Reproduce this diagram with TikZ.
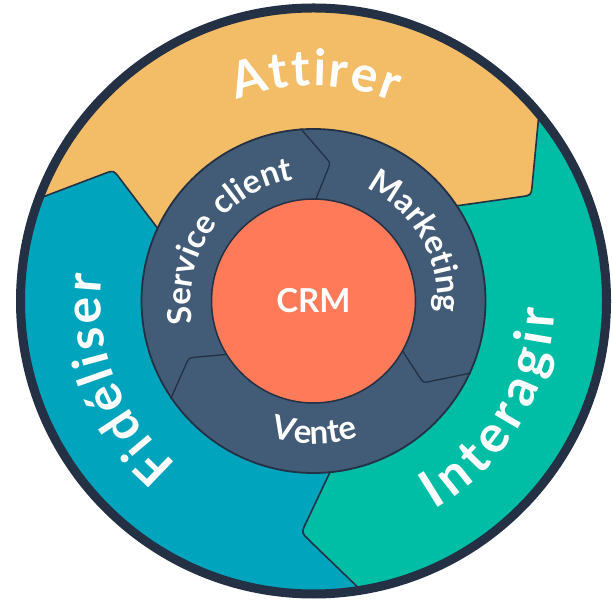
\documentclass[tikz,border=0pt]{standalone}
\usepackage{fontspec}
\setmainfont{Lato}
\usetikzlibrary{calc,decorations.text}
\definecolor{obs}{RGB}{36,48,68}
\definecolor{slate}{HTML}{425B76}
\definecolor{crmor}{HTML}{FF7A59}
\definecolor{attc}{HTML}{F2BD66}
\definecolor{intc}{HTML}{00BDA5}
\definecolor{fidc}{HTML}{00A4BD}
\newcommand\outfmt{\fontsize{50}{60}\selectfont\bfseries}
\newcommand\bigfmt{\fontsize{52}{62}\selectfont\bfseries}
\newcommand\infmt{\fontsize{33}{40}\selectfont\bfseries}
\begin{document}
\begin{tikzpicture}[x=1pt,y=1pt,
  bline/.style={draw=obs, line width=1.6pt},
  iline/.style={draw=obs, line width=1.3pt},
  fittext/.style={decorate, decoration={text along path, text align=fit to path, text color=white, text={#1}}},
  ctext/.style={decorate, decoration={text along path, text align=center, text color=white, text={#1}}}]
\useasboundingbox (0,0) rectangle (612,599);
\begin{scope}[shift={(313.5,298)}]
\coordinate (C) at (0,0);
% outer boundaries
\coordinate (b1x) at (38.9:292); \coordinate (b1o) at (38.9:289); \coordinate (b1c) at (25.9:242); \coordinate (b1i) at (33.6:172); \coordinate (b1y) at (33.6:165);
\coordinate (b2x) at (278.7:292); \coordinate (b2o) at (278.7:289); \coordinate (b2c) at (267:232); \coordinate (b2i) at (275.5:172); \coordinate (b2y) at (275.5:165);
\coordinate (b3x) at (158.8:292); \coordinate (b3o) at (158.8:289); \coordinate (b3c) at (146.8:239); \coordinate (b3i) at (155:172); \coordinate (b3y) at (155:165);
% inner boundaries
\coordinate (i1o) at (94.3:173); \coordinate (i1c) at (83:139); \coordinate (i1i) at (88.9:101);
\coordinate (i2o) at (-24.6:173); \coordinate (i2c) at (-36.7:137); \coordinate (i2i) at (-29:101);
\coordinate (i3o) at (214.4:173); \coordinate (i3c) at (204.5:137); \coordinate (i3i) at (211.9:101);
\end{scope}
\foreach \b in {b1,b2,b3} {
  \coordinate (\b co) at ($(\b c)!10pt!(\b o)$);
  \coordinate (\b ci) at ($(\b c)!10pt!(\b i)$);
}
\foreach \b in {i1,i2,i3} {
  \coordinate (\b co) at ($(\b c)!7pt!(\b o)$);
  \coordinate (\b ci) at ($(\b c)!7pt!(\b i)$);
}
% outer segments
\fill[attc] (b1x) arc[start angle=38.9, end angle=158.8, radius=292] -- (b3o) -- (b3co) .. controls (b3c) .. (b3ci) -- (b3i) -- (b3y) arc[start angle=155, end angle=33.6, radius=165] -- (b1i) -- (b1ci) .. controls (b1c) .. (b1co) -- (b1o) -- cycle;
\fill[intc] (b2x) arc[start angle=-81.3, end angle=38.9, radius=292] -- (b1o) -- (b1co) .. controls (b1c) .. (b1ci) -- (b1i) -- (b1y) arc[start angle=33.6, end angle=-84.5, radius=165] -- (b2i) -- (b2ci) .. controls (b2c) .. (b2co) -- (b2o) -- cycle;
\fill[fidc] (b3x) arc[start angle=158.8, end angle=278.7, radius=292] -- (b2o) -- (b2co) .. controls (b2c) .. (b2ci) -- (b2i) -- (b2y) arc[start angle=275.5, end angle=155, radius=165] -- (b3i) -- (b3ci) .. controls (b3c) .. (b3co) -- (b3o) -- cycle;
\foreach \b in {b1,b2,b3} {
  \draw[bline] (\b o) -- (\b co) .. controls (\b c) .. (\b ci) -- (\b i);
}
% inner ring
\draw[fill=slate, draw=obs, line width=1.8pt] (C) circle[radius=172];
\foreach \b in {i1,i2,i3} {
  \draw[iline] (\b o) -- (\b co) .. controls (\b c) .. (\b ci) -- (\b i);
}
\node[circle, fill=crmor, draw=obs, line width=1.5pt, minimum size=204pt, inner sep=0pt, text=white, font=\fontsize{33}{40}\selectfont\bfseries] (crm) at (C) {CRM};
% border
\draw[obs, line width=9pt] (C) circle[radius=293];
% texts
\begin{scope}[shift={(313.5,298)}]
\path[fittext={|\outfmt|Attirer}] (111:215) arc[start angle=111, end angle=68, radius=215];
\path[fittext={|\outfmt|Fidéliser}] (230:213) arc[start angle=230, end angle=173, radius=213];
\path[fittext={|\bigfmt|Interagir}] (-60:241) arc[start angle=-60, end angle=-2, radius=241];
\path[ctext={|\infmt|Service client}] (215:123) arc[start angle=215, end angle=75, radius=123];
\path[ctext={|\infmt|Marketing}] (100:124) arc[start angle=100, end angle=-40, radius=124];
\path[ctext={|\infmt|Vente}] (200:143) arc[start angle=200, end angle=341, radius=143];
\end{scope}
\end{tikzpicture}
\end{document}
